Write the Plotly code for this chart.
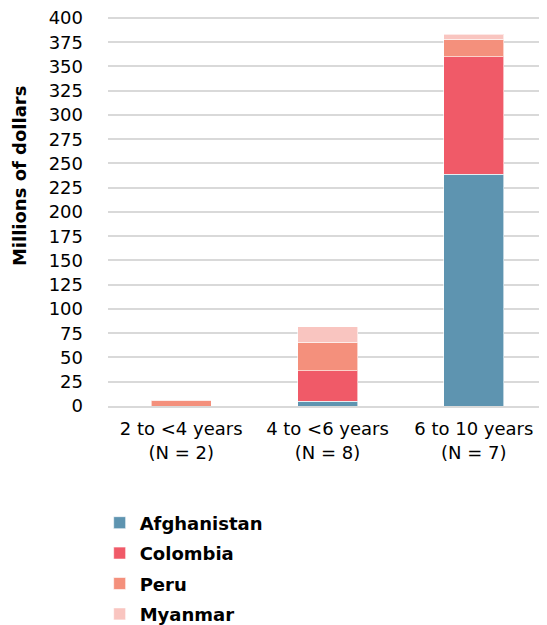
import plotly.graph_objects as go

categories = ["2 to <4 years<br>(N = 2)", "4 to <6 years<br>(N = 8)", "6 to 10 years<br>(N = 7)"]
afghanistan = [0, 5, 239]
colombia = [0, 31.5, 121]
peru = [6, 29, 18]
myanmar = [0, 16, 5]

series = [
    ("Afghanistan", afghanistan, "#5e94b0"),
    ("Colombia", colombia, "#f05a68"),
    ("Peru", peru, "#f4907c"),
    ("Myanmar", myanmar, "#f9c5c0"),
]

fig = go.Figure()
for name, vals, color in series:
    fig.add_trace(go.Bar(
        x=categories, y=vals, name=name, legendgroup=name,
        marker=dict(color=color, line=dict(color="rgba(255,255,255,0.6)", width=1)),
    ))

font_family = "DejaVu Sans, sans-serif"
fig.update_layout(
    width=547, height=625,
    barmode="stack", bargap=0.59,
    plot_bgcolor="white", paper_bgcolor="white",
    margin=dict(l=100, r=8, t=8, b=227, autoexpand=False),
    font=dict(family=font_family, color="black", size=18),
    showlegend=True,
    legend=dict(
        x=-0.019, xanchor="left", y=-0.2525, yanchor="top",
        font=dict(family=font_family, size=18, color="black", weight="bold"),
        traceorder="grouped", orientation="v",
        tracegroupgap=4,
    ),
    yaxis=dict(
        range=[0, 402], tickvals=list(range(0, 401, 25)),
        showgrid=True, gridcolor="#d9d9d9", gridwidth=1.5,
        zeroline=False, showline=False, ticks="",
        ticklabelstandoff=24, automargin=False,
        ticklabeloverflow="allow",
        tickfont=dict(size=18),
    ),
    xaxis=dict(
        showline=True, linecolor="#d9d9d9", linewidth=1.5,
        ticks="", tickfont=dict(size=18), automargin=False,
        ticklabelstandoff=6,
    ),
    annotations=[dict(
        text="<b>Millions of dollars</b>", textangle=-90,
        xref="paper", yref="paper", x=-0.2, y=0.59,
        xanchor="center", yanchor="middle", showarrow=False,
        font=dict(size=18, family=font_family, color="black"),
    )],
)

fig.write_html("out.html")
